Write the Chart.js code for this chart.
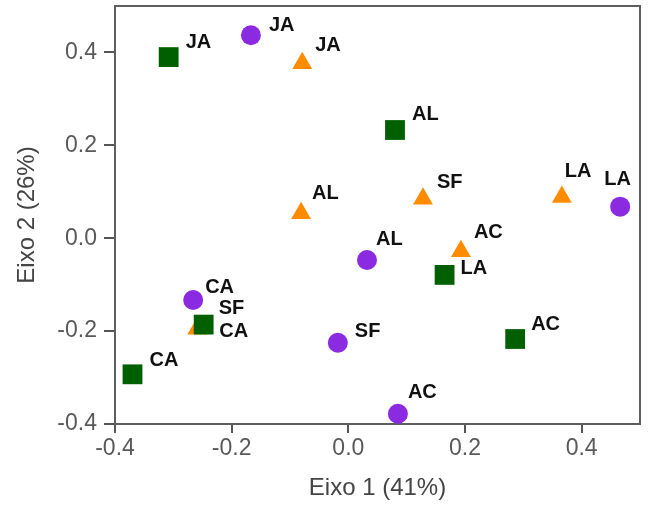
<!DOCTYPE html>
<html>
<head>
<meta charset="utf-8">
<script src="https://cdn.jsdelivr.net/npm/chart.js@4.4.1/dist/chart.umd.min.js"></script>
<style>
  html, body { margin: 0; padding: 0; background: #fff; }
  #wrap { width: 650px; height: 506px; position: relative; }
</style>
</head>
<body>
<div id="wrap"><canvas id="pca"></canvas></div>
<script>
// --- dados ---
const quadradosRotulos = ['JA', 'AL', 'LA', 'AC', 'SF', 'CA'];
const quadradosX = [-0.308, 0.080, 0.165, 0.286, -0.248, -0.370];
const quadradosY = [0.390, 0.233, -0.079, -0.217, -0.186, -0.293];

const circulosRotulos = ['JA', 'LA', 'AL', 'CA', 'SF', 'AC'];
const circulosX = [-0.167, 0.466, 0.032, -0.266, -0.018, 0.085];
const circulosY = [0.437, 0.068, -0.047, -0.133, -0.225, -0.378];

const triangulosRotulos = ['JA', 'AL', 'SF', 'LA', 'AC', 'CA'];
const triangulosX = [-0.079, -0.081, 0.128, 0.366, 0.193, -0.259];
const triangulosY = [0.377, 0.054, 0.085, 0.089, -0.028, -0.195];

const xTicks = [-0.4, -0.2, 0.0, 0.2, 0.4];
const yTicks = [-0.4, -0.2, 0.0, 0.2, 0.4];

// deslocamento dos rótulos em px (estilo, não dados)
const quadradosDesloc = [[17, -15], [17, -16], [16, -6], [16, -15], [15, -16], [17, -14]];
const circulosDesloc = [[18, -10], [-16, -27], [9, -21], [12, -13], [17, -11], [10, -21]];
const triangulosDesloc = [[13, -18], [11, -20], [14, -16], [3, -25], [13, -19], [22, 3]];

const FONT = "Arial, 'Liberation Sans', sans-serif";

function pontos(xs, ys) {
    return xs.map((x, i) => ({ x, y: ys[i] }));
}

const rotulosPlugin = {
    id: 'rotulos',
    afterDatasetsDraw(chart) {
        const ctx = chart.ctx;
        ctx.save();
        ctx.font = `bold 20px ${FONT}`;
        ctx.fillStyle = '#111';
        ctx.textAlign = 'left';
        ctx.textBaseline = 'middle';
        chart.data.datasets.forEach((ds, i) => {
            const meta = chart.getDatasetMeta(i);
            meta.data.forEach((el, j) => {
                const [dx, dy] = ds.desloc[j];
                ctx.fillText(ds.rotulos[j], el.x + dx, el.y + dy);
            });
        });
        ctx.restore();
    }
};

const moldura = {
    id: 'moldura',
    beforeDatasetsDraw(chart) {
        const { ctx, chartArea: a } = chart;
        ctx.save();
        ctx.strokeStyle = '#5e5e5e';
        ctx.lineWidth = 2;
        ctx.strokeRect(a.left, a.top, a.right - a.left, a.bottom - a.top);
        ctx.restore();
    }
};

const fmt = (v) => (Math.abs(v) < 1e-9 ? 0 : v).toFixed(1);

new Chart(document.getElementById('pca'), {
    type: 'scatter',
    data: {
        datasets: [
            {
                label: 'quadrados',
                data: pontos(quadradosX, quadradosY),
                rotulos: quadradosRotulos,
                desloc: quadradosDesloc,
                pointStyle: 'rect',
                pointRadius: 14,
                backgroundColor: '#006000',
                borderWidth: 0,
            },
            {
                label: 'circulos',
                data: pontos(circulosX, circulosY),
                rotulos: circulosRotulos,
                desloc: circulosDesloc,
                pointStyle: 'circle',
                pointRadius: 10,
                backgroundColor: '#8a2be2',
                borderWidth: 0,
            },
            {
                label: 'triangulos',
                data: pontos(triangulosX, triangulosY),
                rotulos: triangulosRotulos,
                desloc: triangulosDesloc,
                pointStyle: 'triangle',
                pointRadius: 11.5,
                backgroundColor: '#ff8c00',
                borderWidth: 0,
            }
        ]
    },
    options: {
        responsive: true,
        maintainAspectRatio: false,
        animation: false,
        layout: {
            autoPadding: false,
            padding: { left: 0, right: 10, top: 6, bottom: 0 }
        },
        plugins: {
            legend: { display: false },
            tooltip: { enabled: false }
        },
        scales: {
            x: {
                type: 'linear',
                min: -0.4,
                max: 0.5,
                afterFit: (s) => {
                    s.height = 82;
                    s.paddingLeft = 0;
                    s.paddingRight = 0;
                },
                afterBuildTicks: (s) => { s.ticks = xTicks.map(v => ({ value: v })); },
                border: { display: false },
                grid: {
                    drawOnChartArea: false,
                    drawTicks: true,
                    tickLength: 9,
                    color: '#555',
                    lineWidth: 2
                },
                ticks: {
                    padding: 2,
                    color: '#595959',
                    font: { family: FONT, size: 23 },
                    callback: fmt
                },
                title: {
                    display: true,
                    text: 'Eixo 1 (41%)',
                    color: '#444',
                    font: { family: FONT, size: 24 },
                    padding: { top: 0, bottom: 3 }
                }
            },
            y: {
                type: 'linear',
                min: -0.4,
                max: 0.5,
                afterFit: (s) => {
                    s.width = 115;
                    s.paddingTop = 0;
                    s.paddingBottom = 0;
                },
                afterBuildTicks: (s) => { s.ticks = yTicks.map(v => ({ value: v })); },
                border: { display: false },
                grid: {
                    drawOnChartArea: false,
                    drawTicks: true,
                    tickLength: 11,
                    color: '#555',
                    lineWidth: 2
                },
                ticks: {
                    padding: 7,
                    color: '#595959',
                    font: { family: FONT, size: 23 },
                    callback: fmt
                },
                title: {
                    display: true,
                    text: 'Eixo 2 (26%)',
                    color: '#444',
                    font: { family: FONT, size: 24 },
                    padding: { top: 13, bottom: 0 }
                }
            }
        }
    },
    plugins: [moldura, rotulosPlugin]
});
</script>
</body>
</html>
